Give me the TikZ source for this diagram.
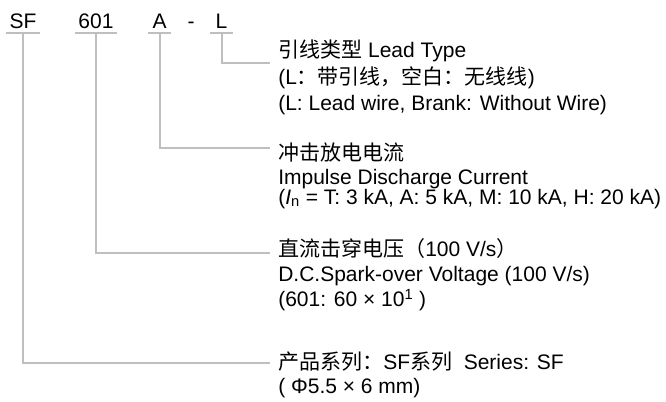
\documentclass[tikz,border=0pt]{standalone}
\usepackage{fontspec}
\setmainfont{Liberation Sans}
\newfontfamily\cjk{Noto Sans CJK SC}
\usetikzlibrary{positioning}

\tikzset{
  guide/.style={color={rgb, 255:red, 191; green, 191; blue, 191}, line width=1.5pt},
  code/.style={anchor=base, font=\fontsize{15.75pt}{18pt}\selectfont, text depth=0pt,
    inner xsep=2.25pt, inner ysep=3.75pt, minimum width=17.25pt},
  desc/.style={anchor=base west, inner sep=0pt, font=\fontsize{15.75pt}{18pt}\selectfont},
}

\begin{document}
\begin{tikzpicture}[x=0.75pt,y=0.75pt,yscale=-1,xscale=1]
\path[use as bounding box] (0,0) rectangle (666,401);

% Code Nodes
\node[code] (sf) at (23,28) {SF};
\node[code] (volt) at (96,28) {601};
\node[code] (cur) at (159.5,28) {A};
\node[code] (dash) at (191,28) {-};
\node[code] (lead) at (221.5,28) {L};

% Connector ends
\coordinate (tipL) at (270,63);
\coordinate (tipA) at (270,148);
\coordinate (tipV) at (270,253);
\coordinate (tipS) at (270,363);

% Text Node: lead type
\node[desc] (l1) at (278,57) {{\cjk 引线类型} Lead Type};
\node[desc] (l2) at (278,84) {(L{\cjk ：带引线，空白：无线线})};
\node[desc] (l3) at (278,110) {(L: Lead wire, Brank: Without Wire)};
% Text Node: discharge current
\node[desc] (a1) at (278,160) {\cjk 冲击放电电流};
\node[desc] (a2) at (278,184) {Impulse Discharge Current};
\node[desc, text height=10.5pt] (a3) at (278,204) {({\itshape I}\textsubscript{n} = T: 3 kA, A: 5 kA, M: 10 kA, H: 20 kA)};
% Text Node: spark-over voltage
\node[desc] (v1) at (278,256) {{\cjk 直流击穿电压（}100 V/s{\cjk ）}};
\node[desc] (v2) at (278,281) {D.C.Spark-over Voltage (100 V/s)};
\node[desc] (v3) at (278,306) {(601: 60 × 10\textsuperscript{1} )};
% Text Node: series
\node[desc] (s1) at (278,369) {{\cjk 产品系列：}SF{\cjk 系列}\ \ Series: SF};
\node[desc] (s2) at (278,393) {( Φ5.5 × 6 mm)};

% Underlines
\foreach \c in {sf,volt,cur,lead}
  \draw[guide] (\c.south west) -- (\c.south east);

% Straight Lines
\draw[guide] (lead.south) |- (tipL);
\draw[guide] (cur.south) |- (tipA);
\draw[guide] (volt.south) |- (tipV);
\draw[guide] (sf.south) |- (tipS);

\end{tikzpicture}
\end{document}
